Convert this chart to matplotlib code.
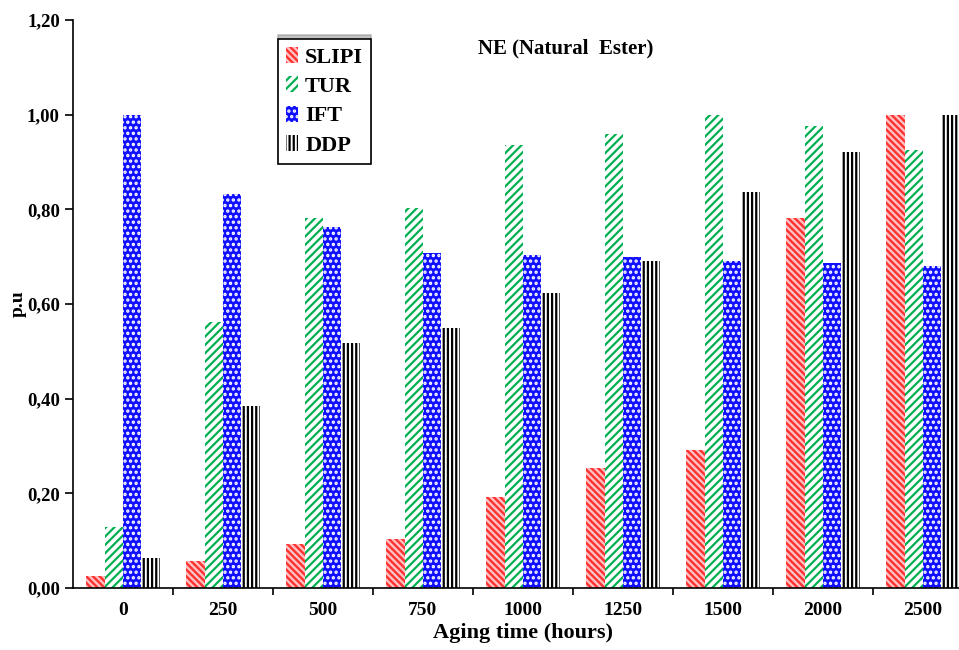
import numpy as np
import matplotlib.pyplot as plt
from matplotlib.ticker import FuncFormatter, FixedLocator

plt.rcParams['font.family'] = ['Liberation Serif', 'DejaVu Serif']
plt.rcParams['font.weight'] = 'bold'
plt.rcParams['hatch.linewidth'] = 1.6

hours = ['0', '250', '500', '750', '1000', '1250', '1500', '2000', '2500']
slipi = [0.025, 0.058, 0.092, 0.104, 0.193, 0.254, 0.292, 0.782, 1.00]
tur = [0.128, 0.561, 0.782, 0.803, 0.936, 0.960, 1.00, 0.977, 0.925]
ift = [1.00, 0.833, 0.763, 0.707, 0.703, 0.700, 0.690, 0.686, 0.681]
ddp = [0.064, 0.384, 0.517, 0.550, 0.623, 0.690, 0.836, 0.921, 1.00]

fig = plt.figure(figsize=(9.59, 6.5), dpi=100)
ax = fig.add_axes([0.0761, 0.0954, 0.9385, 0.8738])

x = np.arange(len(hours))
w = 0.183
styles = [
    ('SLIPI', slipi, dict(facecolor='#ff3535', edgecolor='#ffc4c4', hatch='\\\\\\\\\\')),
    ('TUR', tur, dict(facecolor='white', edgecolor='#00b050', hatch='////')),
    ('IFT', ift, dict(facecolor='#1010ff', edgecolor='white', hatch='...')),
    ('DDP', ddp, dict(facecolor='white', edgecolor='black', hatch='||||')),
]
for i, (name, vals, st) in enumerate(styles):
    ax.bar(x + (i - 1.5) * w, vals, w, linewidth=0, label=name, **st)

ax.set_xlim(-0.5, len(hours) - 0.5)
ax.set_ylim(0, 1.2)
ax.set_yticks(np.arange(0, 1.21, 0.2))
ax.yaxis.set_major_formatter(FuncFormatter(lambda v, p: f'{v:.2f}'.replace('.', ',')))
ax.set_xticks(x)
ax.set_xticklabels(hours)
ax.xaxis.set_minor_locator(FixedLocator(x[:-1] + 0.5))
ax.tick_params(axis='x', which='major', length=0, pad=10, labelsize=14)
ax.tick_params(axis='x', which='minor', length=5, width=1.2)
ax.tick_params(axis='y', length=6, width=1.2, labelsize=13.5)
for lab in ax.get_xticklabels() + ax.get_yticklabels():
    lab.set_fontweight('bold')

for s in ['top', 'right']:
    ax.spines[s].set_visible(False)
for s in ['left', 'bottom']:
    ax.spines[s].set_linewidth(1.2)

ax.set_xlabel('Aging time (hours)', fontsize=16, fontweight='bold', labelpad=3)
ax.set_ylabel('p.u', fontsize=14, fontweight='bold', labelpad=0)
ax.text(0.547, 0.95, 'NE (Natural  Ester)', transform=ax.transAxes,
        fontsize=15, fontweight='bold', ha='center', va='center')

leg = ax.legend(loc='upper left', bbox_to_anchor=(0.216, 0.986), fontsize=16,
                handlelength=0.55, handleheight=0.75, handletextpad=0.3,
                labelspacing=0.38, borderpad=0.35, fancybox=False,
                shadow={'ox': 0, 'oy': 3, 'color': '#888888'},
                edgecolor='black', framealpha=1)
leg.get_frame().set_linewidth(1.2)
for t in leg.get_texts():
    t.set_fontweight('bold')

fig.savefig('out.png', dpi=100)
